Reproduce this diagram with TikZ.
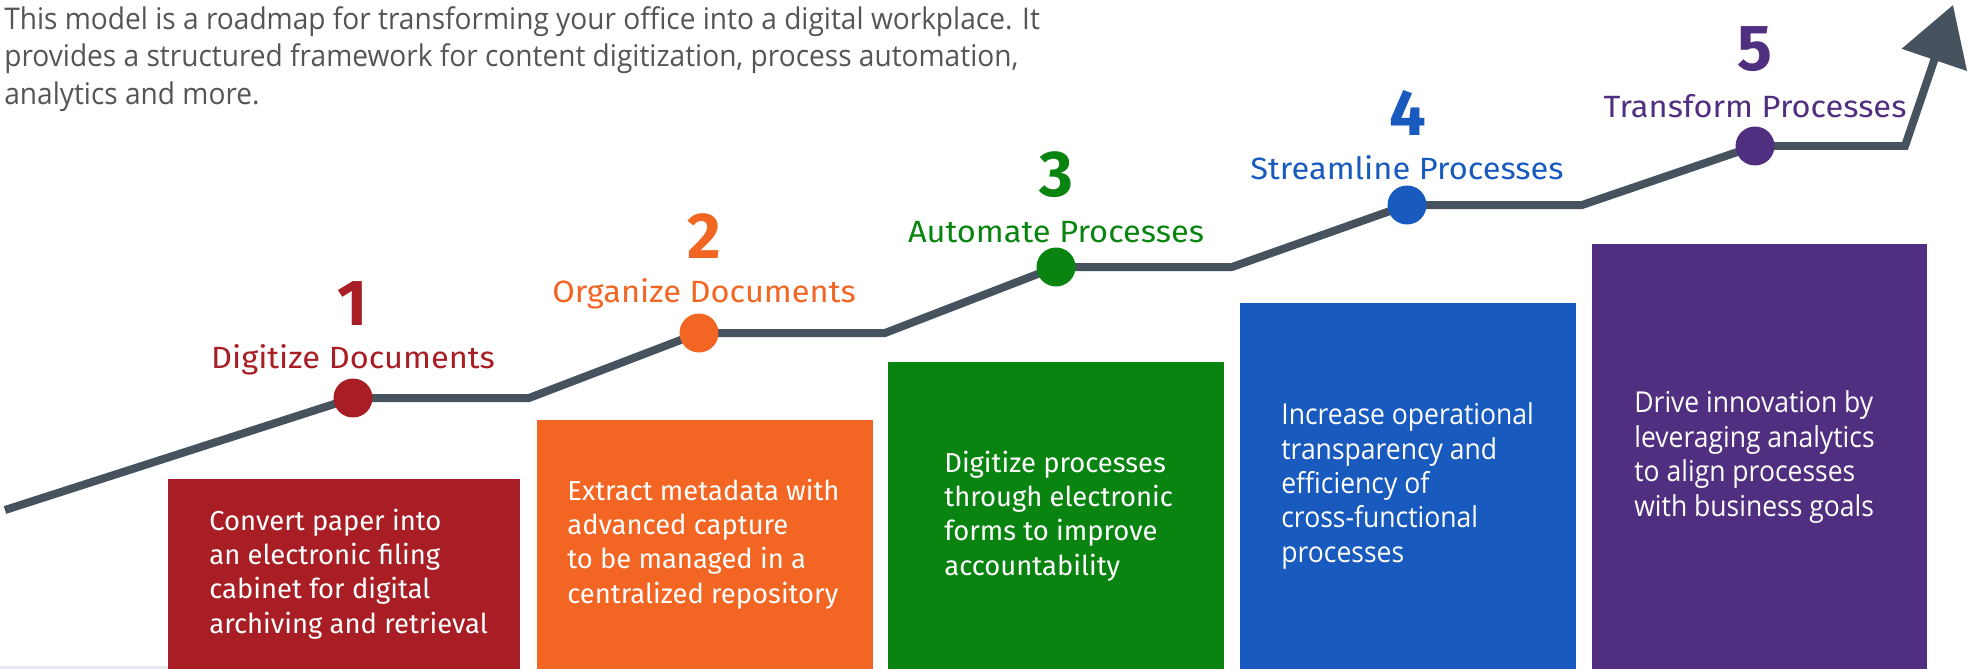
\documentclass[tikz,border=0pt]{standalone}
\usepackage{fontspec}
\setmainfont{Fira Sans}
\newfontfamily\condfont[FakeStretch=0.92]{Open Sans}
\newfontfamily\headfont[FakeStretch=0.94]{Open Sans}
\newfontfamily\labelfont[FakeStretch=1.06]{Fira Sans}
\usetikzlibrary{arrows.meta,backgrounds}
\definecolor{cRed}{HTML}{A81E24}
\definecolor{cOrange}{HTML}{F26522}
\definecolor{cGreen}{HTML}{0A8410}
\definecolor{cBlue}{HTML}{185ABD}
\definecolor{cPurple}{HTML}{512F80}
\definecolor{cPath}{HTML}{46525E}
\definecolor{cHead}{HTML}{555555}
\definecolor{cRule}{HTML}{E6E9EE}
\begin{document}
\begin{tikzpicture}[x=0.02cm,y=-0.02cm,
  stepbox/.style={rectangle, inner sep=0, anchor=north west, draw=none},
  boxtext/.style={anchor=west, inner sep=0, align=left, text=white,
    font=\fontsize{15.6}{19.6}\selectfont},
  condtext/.style={boxtext, font=\condfont\fontsize{16.4}{19.6}\selectfont},
  label/.style={anchor=base, inner sep=0, font=\labelfont\fontsize{17.5}{20}\selectfont},
  digit/.style={anchor=base, inner sep=0, font=\bfseries\fontsize{37}{40}\selectfont},
  dot/.style={circle, inner sep=0, minimum size=0.78cm, draw=none},
  road/.style={draw=cPath, line width=0.16cm, line join=miter}
]
\useasboundingbox (0,0) rectangle (1971,669);
\fill[cRule] (0,666) rectangle (168,669);

% header
\node[anchor=north west, inner sep=0, align=left, text=cHead,
  font=\headfont\fontsize{17}{21.4}\selectfont] (head) at (4,6)
  {This model is a roadmap for transforming your office into a digital workplace. It\\
   provides a structured framework for content digitization, process automation,\\
   analytics and more.};

% boxes
\node[stepbox, fill=cRed,    minimum width=7.04cm, minimum height=3.80cm] (b1) at (168,479) {};
\node[stepbox, fill=cOrange, minimum width=6.72cm, minimum height=4.98cm] (b2) at (537,420) {};
\node[stepbox, fill=cGreen,  minimum width=6.72cm, minimum height=6.14cm] (b3) at (888,362) {};
\node[stepbox, fill=cBlue,   minimum width=6.72cm, minimum height=7.32cm] (b4) at (1240,303) {};
\node[stepbox, fill=cPurple, minimum width=6.70cm, minimum height=8.50cm] (b5) at (1592,244) {};

\node[boxtext] (t1) at (209,574) {Convert paper into\\an electronic filing\\cabinet for digital\\archiving and retrieval};
\node[boxtext] (t2) at (567,544) {Extract metadata with\\advanced capture\\to be managed in a\\centralized repository};
\node[boxtext] (t3) at (944,516) {Digitize processes\\through electronic\\forms to improve\\accountability};
\node[condtext] (t4) at (1281,486) {Increase operational\\transparency and\\efficiency of\\cross-functional\\processes};
\node[condtext] (t5) at (1634,457) {Drive innovation by\\leveraging analytics\\to align processes\\with business goals};

% dots
\node[dot, fill=cRed]    (d1) at (353,398) {};
\node[dot, fill=cOrange] (d2) at (699,333) {};
\node[dot, fill=cGreen]  (d3) at (1056,267) {};
\node[dot, fill=cBlue]   (d4) at (1407,205) {};
\node[dot, fill=cPurple] (d5) at (1755,146) {};

\coordinate (s0) at (5,510);
\coordinate (k1) at (529,398);
\coordinate (k2) at (885,333);
\coordinate (k3) at (1232,267);
\coordinate (k4) at (1582,205);
\coordinate (k5) at (1905,146);
\coordinate (tip) at (1953,5);

\begin{scope}[on background layer]
\draw[road, -{Triangle[length=1.16cm,width=1.34cm]}]
  (s0) -- (d1.center) -- (k1) -- (d2.center) -- (k2) -- (d3.center) -- (k3)
  -- (d4.center) -- (k4) -- (d5.center) -- (k5) -- (tip);
\end{scope}

% labels
\node[label, text=cRed]    (l1) at (353,368) {Digitize Documents};
\node[label, text=cOrange] (l2) at (704,302) {Organize Documents};
\node[label, text=cGreen]  (l3) at (1056,242) {Automate Processes};
\node[label, text=cBlue]   (l4) at (1407,179) {Streamline Processes};
\node[label, text=cPurple] (l5) at (1755,117) {Transform Processes};

\node[digit, text=cRed]    (n1) at (353,325) {1};
\node[digit, text=cOrange] (n2) at (704,258) {2};
\node[digit, text=cGreen]  (n3) at (1056,196) {3};
\node[digit, text=cBlue]   (n4) at (1408,135) {4};
\node[digit, text=cPurple] (n5) at (1755,71) {5};
\end{tikzpicture}
\end{document}
